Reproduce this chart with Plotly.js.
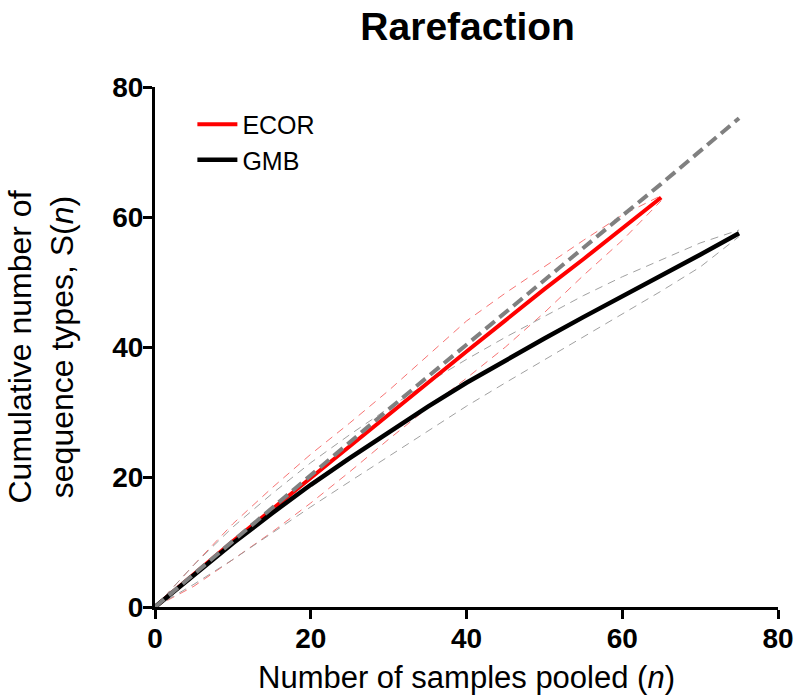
<!DOCTYPE html>
<html>
<head>
<meta charset="utf-8">
<script src="https://cdn.plot.ly/plotly-3.0.1.min.js"></script>
<style>
  html, body { margin: 0; padding: 0; background: #fff; }
  #chart { width: 798px; height: 695px; }
</style>
</head>
<body>
<div id="chart"></div>
<script>
// ---- data ----
const ecorX      = [0, 5, 10, 15, 20, 25, 30, 35, 40, 45, 50, 55, 60, 65];
const ecorS      = [0, 5.1, 10.1, 15.0, 19.9, 24.7, 29.6, 34.4, 39.3, 44.1, 48.9, 53.5, 58.2, 63.0];
const ecorUpper  = [0, 6.5, 12.8, 18.3, 23.5, 28.3, 33.3, 38.6, 44.0, 48.3, 52.4, 56.4, 60.3, 63.3];
const ecorLower  = [0, 3.2, 7.3, 11.5, 16.0, 20.8, 25.8, 30.6, 35.2, 40.0, 45.3, 51.0, 56.4, 62.5];

const gmbX       = [0, 5, 10, 15, 20, 25, 30, 35, 40, 45, 50, 55, 60, 65, 70, 75];
const gmbS       = [0, 5.0, 9.8, 14.4, 18.8, 22.9, 26.9, 30.8, 34.5, 38.0, 41.3, 44.6, 47.8, 50.9, 54.2, 57.5];
const gmbUpper   = [0, 6.5, 12.3, 17.4, 22.2, 26.5, 30.6, 34.5, 38.1, 41.5, 44.7, 47.9, 50.8, 53.4, 56.0, 58.0];
const gmbLower   = [0, 3.5, 7.3, 11.4, 15.4, 19.3, 23.2, 27.1, 30.9, 34.5, 38.0, 41.5, 45.0, 48.6, 52.3, 57.0];

const extrapX    = [0, 5, 10, 15, 20, 25, 30, 35, 40, 45, 50, 55, 60, 65, 70, 75];
const extrapS    = [0, 5.1, 10.2, 15.3, 20.3, 25.4, 30.4, 35.4, 40.4, 45.4, 50.4, 55.3, 60.2, 65.1, 70.1, 75.2];

const xTicks = [0, 20, 40, 60, 80];
const yTicks = [0, 20, 40, 60, 80];

const seriesNames = ['ECOR', 'GMB'];

// ---- traces ----
const bandRed  = {color: 'rgba(245,100,100,0.9)', width: 1, dash: '8px,6px'};
const bandGray = {color: 'rgba(150,150,150,0.9)', width: 1, dash: '8px,6px'};

const traces = [
  {x: ecorX, y: ecorUpper, mode: 'lines', line: bandRed, showlegend: false, hoverinfo: 'skip'},
  {x: ecorX, y: ecorLower, mode: 'lines', line: bandRed, showlegend: false, hoverinfo: 'skip'},
  {x: gmbX, y: gmbUpper, mode: 'lines', line: bandGray, showlegend: false, hoverinfo: 'skip'},
  {x: gmbX, y: gmbLower, mode: 'lines', line: bandGray, showlegend: false, hoverinfo: 'skip'},
  {x: ecorX, y: ecorS, mode: 'lines', name: seriesNames[0], line: {color: '#ff0000', width: 4}},
  {x: gmbX, y: gmbS, mode: 'lines', name: seriesNames[1], line: {color: '#000000', width: 4.5}},
  {x: extrapX, y: extrapS, mode: 'lines', showlegend: false, line: {color: '#808080', width: 4, dash: '12px,6px'}}
];

const tickFont = {family: '"Liberation Sans", Arial, sans-serif', size: 28, color: '#000'};
const xLabelFont = {family: '"Liberation Sans", Arial, sans-serif', size: 31, color: '#000'};
const yLabelFont = {family: '"Liberation Sans", Arial, sans-serif', size: 32, color: '#000'};

const layout = {
  width: 798, height: 695,
  paper_bgcolor: '#fff', plot_bgcolor: '#fff',
  margin: {l: 155, r: 20, t: 87, b: 88},
  title: {
    text: '<b>Rarefaction</b>',
    font: {family: '"Liberation Sans", Arial, sans-serif', size: 39, color: '#000'},
    x: 0.586, xref: 'container', xanchor: 'center',
    y: 0.962, yref: 'container', yanchor: 'middle'
  },
  xaxis: {
    range: [0, 80], tickvals: xTicks, ticktext: xTicks.map(v => '<b>' + v + '</b>'),
    showgrid: false, zeroline: false,
    showline: true, linecolor: '#000', linewidth: 3,
    ticks: 'outside', ticklen: 9, tickwidth: 3, tickcolor: '#000',
    tickfont: tickFont, ticklabelstandoff: -5,
    title: {text: 'Number of samples pooled (<i>n</i>)', font: xLabelFont, standoff: 17},
    automargin: false
  },
  yaxis: {
    range: [0, 80], tickvals: yTicks, ticktext: yTicks.map(v => '<b>' + v + '</b>'),
    showgrid: false, zeroline: false,
    showline: true, linecolor: '#000', linewidth: 3,
    ticks: 'outside', ticklen: 9, tickwidth: 3, tickcolor: '#000',
    tickfont: tickFont, ticklabelstandoff: -6,
    title: {text: 'Cumulative number of<br>sequence types, S(<i>n</i>)', font: yLabelFont, standoff: 30},
    automargin: false
  },
  legend: {
    x: 0.06, y: 0.972, xanchor: 'left', yanchor: 'top',
    bgcolor: 'rgba(0,0,0,0)', borderwidth: 0,
    font: {family: '"Liberation Sans", Arial, sans-serif', size: 25, color: '#000'},
    itemwidth: 40
  },
  showlegend: true
};

Plotly.newPlot('chart', traces, layout, {displayModeBar: false, staticPlot: true});
</script>
</body>
</html>
